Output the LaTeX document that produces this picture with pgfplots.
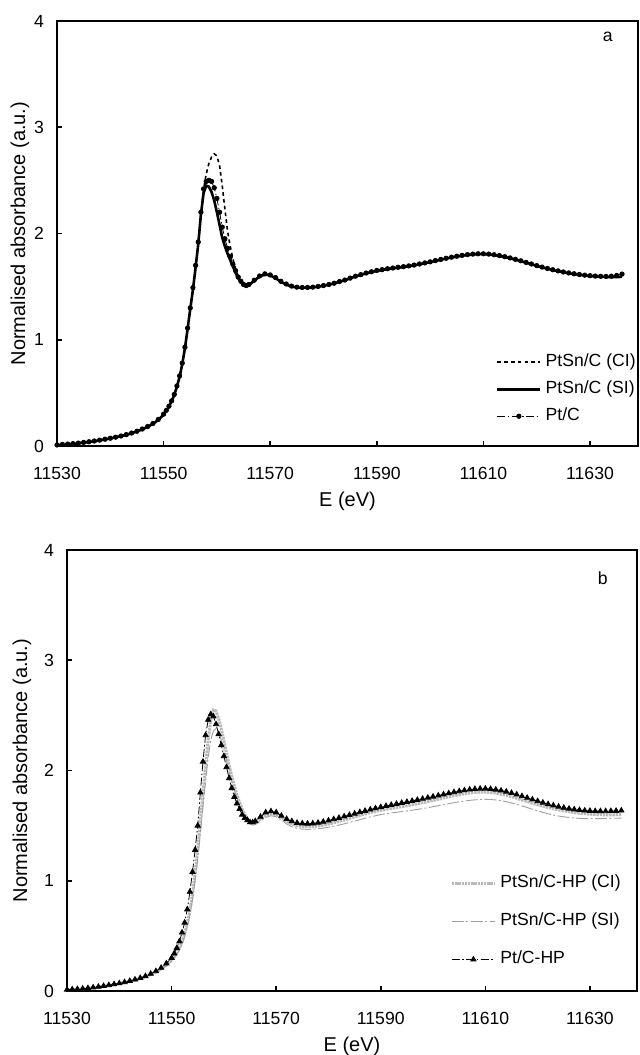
\documentclass[border=0pt]{standalone}
\usepackage{fontspec}
\setmainfont{Liberation Sans}
\usepackage{pgfplots}
\usepackage{pgfplotstable}
\pgfplotsset{compat=1.18}
\usetikzlibrary{calc}
\newcommand\ff{\fontsize{8.8}{10.5}\selectfont}

% panel a: E, PtSn/C (CI), PtSn/C (SI), Pt/C
\pgfplotstableread{
E CI SI Pt
11530 0.010 0.010 0.010
11531 0.012 0.012 0.015
11532 0.015 0.015 0.018
11533 0.020 0.020 0.022
11534 0.025 0.025 0.027
11535 0.032 0.032 0.034
11536 0.038 0.038 0.040
11537 0.045 0.045 0.047
11538 0.053 0.053 0.055
11539 0.062 0.062 0.064
11540 0.071 0.071 0.073
11541 0.081 0.081 0.083
11542 0.092 0.092 0.094
11543 0.105 0.105 0.107
11544 0.120 0.120 0.122
11545 0.137 0.137 0.139
11546 0.157 0.157 0.160
11547 0.180 0.180 0.183
11548 0.208 0.208 0.212
11549 0.245 0.245 0.250
11550 0.295 0.295 0.300
11550.5 0.330 0.330 0.335
11551 0.370 0.370 0.375
11551.5 0.420 0.420 0.425
11552 0.480 0.480 0.485
11552.5 0.560 0.560 0.565
11553 0.650 0.650 0.660
11553.5 0.770 0.770 0.780
11554 0.920 0.920 0.930
11554.5 1.100 1.100 1.110
11555 1.290 1.290 1.300
11555.5 1.470 1.470 1.490
11556 1.680 1.680 1.700
11556.5 1.900 1.900 1.920
11557 2.180 2.180 2.200
11557.5 2.420 2.380 2.420
11558 2.560 2.450 2.490
11558.5 2.660 2.440 2.500
11559 2.720 2.390 2.490
11559.5 2.750 2.310 2.430
11560 2.730 2.200 2.330
11560.5 2.640 2.080 2.200
11561 2.450 1.960 2.060
11561.5 2.230 1.880 1.950
11562 2.020 1.810 1.860
11562.5 1.880 1.750 1.780
11563 1.760 1.690 1.710
11563.5 1.670 1.630 1.650
11564 1.600 1.580 1.590
11564.5 1.550 1.540 1.550
11565 1.520 1.510 1.520
11565.5 1.510 1.505 1.510
11566 1.520 1.515 1.520
11567 1.555 1.555 1.560
11568 1.595 1.595 1.600
11569 1.615 1.615 1.620
11570 1.605 1.605 1.610
11571 1.580 1.580 1.585
11572 1.545 1.545 1.550
11573 1.520 1.520 1.525
11574 1.500 1.500 1.505
11575 1.492 1.492 1.495
11576 1.490 1.490 1.492
11577 1.490 1.490 1.492
11578 1.493 1.493 1.495
11579 1.500 1.500 1.502
11580 1.508 1.508 1.510
11581 1.518 1.518 1.520
11582 1.530 1.530 1.532
11583 1.545 1.545 1.548
11584 1.560 1.560 1.562
11585 1.578 1.578 1.580
11586 1.595 1.595 1.598
11587 1.610 1.610 1.613
11588 1.625 1.625 1.628
11589 1.637 1.637 1.640
11590 1.648 1.648 1.652
11591 1.657 1.657 1.660
11592 1.665 1.665 1.668
11593 1.672 1.672 1.675
11594 1.678 1.678 1.682
11595 1.685 1.685 1.688
11596 1.692 1.692 1.695
11597 1.700 1.700 1.703
11598 1.710 1.710 1.713
11599 1.720 1.720 1.723
11600 1.730 1.730 1.733
11601 1.742 1.742 1.745
11602 1.753 1.753 1.756
11603 1.764 1.764 1.767
11604 1.774 1.774 1.777
11605 1.783 1.783 1.786
11606 1.791 1.791 1.794
11607 1.798 1.798 1.801
11608 1.803 1.803 1.806
11609 1.806 1.806 1.809
11610 1.806 1.806 1.809
11611 1.803 1.803 1.806
11612 1.797 1.797 1.800
11613 1.789 1.789 1.792
11614 1.779 1.779 1.782
11615 1.767 1.767 1.770
11616 1.754 1.754 1.757
11617 1.740 1.740 1.743
11618 1.725 1.725 1.728
11619 1.710 1.710 1.713
11620 1.695 1.695 1.698
11621 1.681 1.681 1.684
11622 1.668 1.668 1.671
11623 1.656 1.656 1.659
11624 1.645 1.645 1.648
11625 1.635 1.635 1.638
11626 1.626 1.626 1.629
11627 1.618 1.618 1.621
11628 1.611 1.611 1.614
11629 1.605 1.605 1.608
11630 1.600 1.600 1.603
11631 1.596 1.596 1.599
11632 1.593 1.593 1.597
11633 1.591 1.591 1.596
11634 1.590 1.590 1.598
11635 1.590 1.590 1.605
11636 1.592 1.592 1.618
}\tabA

% panel b: E, PtSn/C-HP (CI), PtSn/C-HP (SI), Pt/C-HP
\pgfplotstableread{
E CI SI Pt
11530 0.010 0.010 0.012
11531 0.012 0.012 0.014
11532 0.015 0.015 0.017
11533 0.019 0.019 0.021
11534 0.024 0.024 0.026
11535 0.030 0.030 0.032
11536 0.036 0.036 0.038
11537 0.043 0.043 0.045
11538 0.050 0.050 0.053
11539 0.058 0.058 0.061
11540 0.067 0.067 0.070
11541 0.077 0.077 0.080
11542 0.088 0.088 0.091
11543 0.100 0.100 0.104
11544 0.114 0.114 0.118
11545 0.130 0.130 0.135
11546 0.150 0.148 0.156
11547 0.172 0.170 0.180
11548 0.200 0.196 0.210
11549 0.235 0.228 0.250
11550 0.280 0.270 0.300
11550.5 0.310 0.298 0.340
11551 0.345 0.330 0.390
11551.5 0.390 0.372 0.450
11552 0.445 0.425 0.530
11552.5 0.520 0.495 0.620
11553 0.610 0.580 0.740
11553.5 0.730 0.690 0.900
11554 0.880 0.830 1.080
11554.5 1.070 1.000 1.280
11555 1.290 1.200 1.500
11555.5 1.530 1.430 1.800
11556 1.790 1.670 2.080
11556.5 2.040 1.900 2.320
11557 2.280 2.120 2.460
11557.5 2.460 2.280 2.510
11558 2.550 2.360 2.490
11558.5 2.540 2.380 2.420
11559 2.470 2.350 2.330
11559.5 2.380 2.280 2.230
11560 2.270 2.190 2.130
11560.5 2.160 2.090 2.030
11561 2.050 1.990 1.930
11561.5 1.950 1.900 1.840
11562 1.860 1.820 1.760
11562.5 1.780 1.750 1.700
11563 1.710 1.690 1.650
11563.5 1.650 1.630 1.600
11564 1.600 1.580 1.570
11564.5 1.560 1.540 1.550
11565 1.535 1.515 1.530
11565.5 1.525 1.505 1.530
11566 1.530 1.510 1.540
11567 1.560 1.540 1.580
11568 1.595 1.575 1.620
11569 1.610 1.590 1.630
11570 1.600 1.580 1.620
11571 1.575 1.550 1.590
11572 1.540 1.515 1.560
11573 1.515 1.490 1.540
11574 1.500 1.475 1.525
11575 1.492 1.468 1.520
11576 1.490 1.466 1.518
11577 1.492 1.468 1.520
11578 1.497 1.472 1.526
11579 1.505 1.478 1.535
11580 1.515 1.486 1.546
11581 1.526 1.495 1.558
11582 1.538 1.505 1.570
11583 1.551 1.516 1.583
11584 1.565 1.528 1.596
11585 1.579 1.541 1.609
11586 1.593 1.554 1.622
11587 1.606 1.567 1.634
11588 1.618 1.579 1.646
11589 1.629 1.590 1.657
11590 1.639 1.600 1.668
11591 1.648 1.608 1.678
11592 1.656 1.615 1.688
11593 1.664 1.621 1.697
11594 1.672 1.627 1.706
11595 1.680 1.633 1.715
11596 1.689 1.640 1.724
11597 1.698 1.647 1.733
11598 1.708 1.655 1.743
11599 1.718 1.663 1.753
11600 1.729 1.672 1.763
11601 1.740 1.681 1.773
11602 1.751 1.690 1.783
11603 1.762 1.699 1.793
11604 1.772 1.708 1.803
11605 1.781 1.716 1.812
11606 1.789 1.723 1.820
11607 1.796 1.729 1.827
11608 1.801 1.734 1.832
11609 1.804 1.737 1.835
11610 1.804 1.738 1.835
11611 1.801 1.737 1.832
11612 1.795 1.733 1.826
11613 1.786 1.726 1.818
11614 1.775 1.717 1.808
11615 1.762 1.706 1.796
11616 1.748 1.693 1.782
11617 1.733 1.679 1.767
11618 1.718 1.664 1.752
11619 1.703 1.649 1.737
11620 1.689 1.634 1.722
11621 1.676 1.620 1.708
11622 1.664 1.607 1.695
11623 1.653 1.596 1.683
11624 1.643 1.587 1.672
11625 1.634 1.580 1.662
11626 1.626 1.574 1.654
11627 1.619 1.569 1.647
11628 1.613 1.566 1.641
11629 1.608 1.564 1.637
11630 1.604 1.563 1.634
11631 1.601 1.563 1.632
11632 1.599 1.564 1.631
11633 1.598 1.565 1.631
11634 1.598 1.566 1.632
11635 1.599 1.567 1.634
11636 1.601 1.568 1.637
}\tabB

\pgfplotsset{
  xas/.style={
    scale only axis, anchor=south west,
    xmin=11530, xmax=11639, ymin=0, ymax=4,
    xtick={11530,11550,...,11630}, ytick={0,1,2,3,4},
    scaled x ticks=false,
    /pgf/number format/1000 sep={},
    /pgf/number format/assume math mode=true,
    tick align=inside, xtick pos=bottom, ytick pos=left,
    major tick length=2.5pt,
    axis line style={line width=0.8pt},
    tick style={black, line width=0.8pt},
    every tick label/.append style={font=\ff},
    xticklabel style={anchor=center, yshift=-13.5pt},
    yticklabel style={anchor=center, xshift=-9pt},
    label style={font=\ff},
    xlabel={E (eV)},
    ylabel={Normalised absorbance (a.u.)},
    every axis x label/.style={at={(rel axis cs:0.5,0)}, anchor=center, yshift=-27.5pt},
    legend cell align=left,
    legend image code/.code={\draw[mark repeat=2,mark phase=2,##1] plot coordinates {(0pt,0pt) (10.75pt,0pt) (21.5pt,0pt)};},
  }
}

\begin{document}
\begin{tikzpicture}
\useasboundingbox (0,0) rectangle (320pt,527.5pt);

\begin{axis}[xas, at={(28.5pt,304.5pt)}, width=290.5pt, height=212.5pt,
  every axis y label/.style={at={($(rel axis cs:0,0.5)+(-18.5pt,0pt)$)}, anchor=center, rotate=90},
  legend style={at={(rel axis cs:0.755,0.218)}, anchor=north west, draw=none, fill=none,
    inner sep=0pt, row sep=5pt, column sep=2pt, font=\ff,
    nodes={inner sep=0pt, text height=6.5pt, text depth=2pt}}]
  \addplot[black, line width=0.8pt, dash pattern=on 1.8pt off 1.6pt] table[x=E, y=CI] {\tabA};
  \addlegendentry{PtSn/C (CI)}
  \addplot[black, line width=1.3pt] table[x=E, y=SI] {\tabA};
  \addlegendentry{PtSn/C (SI)}
  \addplot[black, line width=0.4pt, dash pattern=on 4pt off 1.2pt on 0.8pt off 1.2pt,
    mark=*, mark size=1.1pt, mark options={solid, fill=black}] table[x=E, y=Pt] {\tabA};
  \addlegendentry{Pt/C}
  \node[font=\ff] at (rel axis cs:0.948,0.962) {a};
\end{axis}

\begin{axis}[xas, at={(33.5pt,32pt)}, width=285pt, height=220.5pt,
  every axis y label/.style={at={($(rel axis cs:0,0.5)+(-22.5pt,0pt)$)}, anchor=center, rotate=90},
  legend style={at={(rel axis cs:0.672,0.264)}, anchor=north west, draw=none, fill=none,
    inner sep=0pt, row sep=10.5pt, column sep=2pt, font=\ff,
    nodes={inner sep=0pt, text height=6.5pt, text depth=2pt}}]
  \addplot[gray!55, line width=1.5pt, dash pattern=on 1.2pt off 0.4pt] table[x=E, y=CI] {\tabB};
  \addlegendentry{PtSn/C-HP (CI)}
  \addplot[gray!75, line width=0.45pt, dash pattern=on 6pt off 1.2pt on 1pt off 1.2pt] table[x=E, y=SI] {\tabB};
  \addlegendentry{PtSn/C-HP (SI)}
  \addplot[black, line width=0.4pt, dash pattern=on 4pt off 1.2pt on 0.8pt off 1.2pt,
    mark=triangle*, mark size=1.5pt, mark options={solid, fill=black}] table[x=E, y=Pt] {\tabB};
  \addlegendentry{Pt/C-HP}
  \node[font=\ff] at (rel axis cs:0.940,0.937) {b};
\end{axis}
\end{tikzpicture}
\end{document}
